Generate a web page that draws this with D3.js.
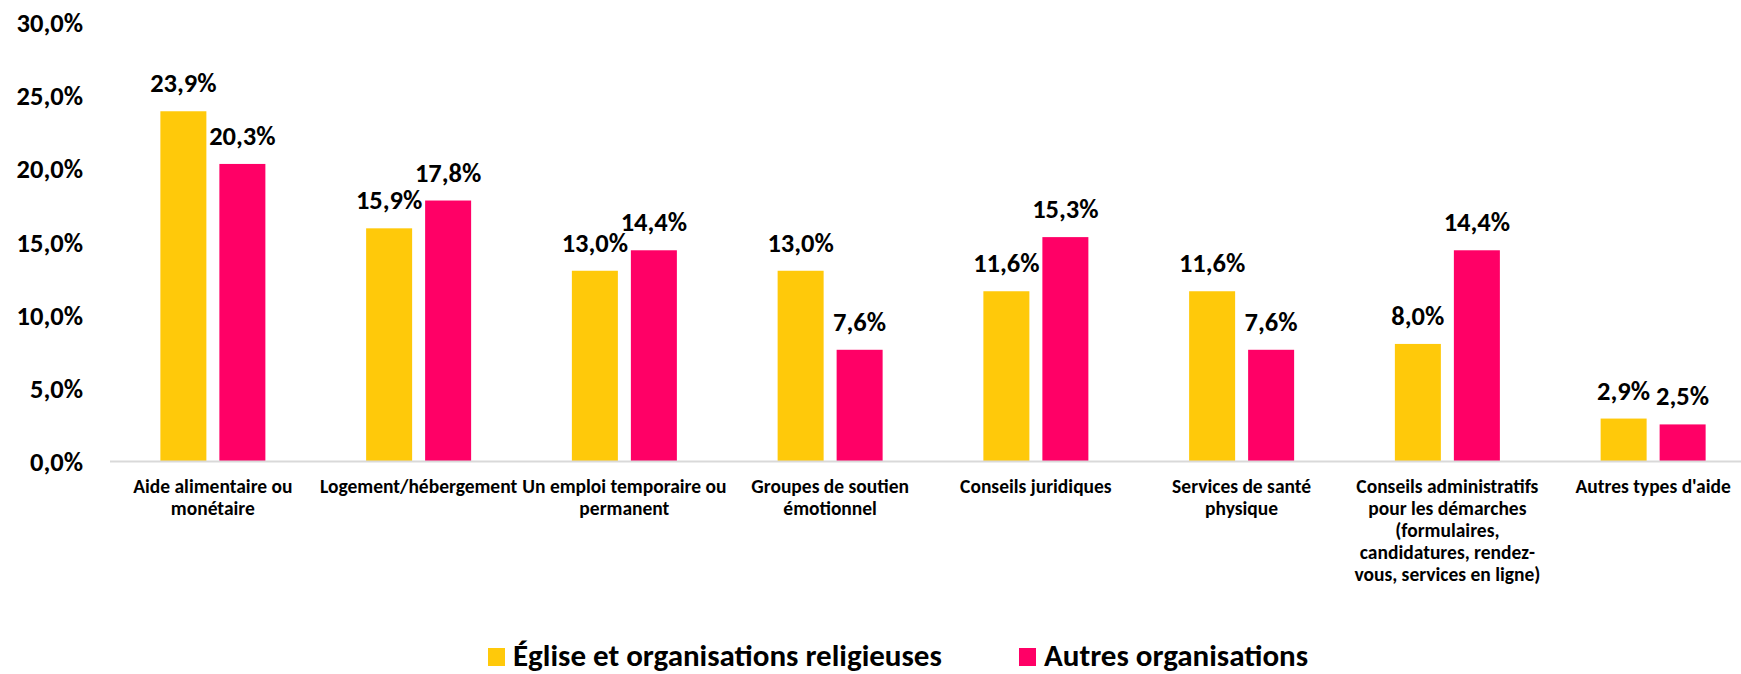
<!DOCTYPE html>
<html>
<head>
<meta charset="utf-8">
<script src="https://cdn.jsdelivr.net/npm/d3@7"></script>
<style>
  body { margin: 0; background: #fff; }
  svg text { font-family: Carlito, Calibri, Lato, sans-serif; font-weight: bold; fill: #000; }
</style>
</head>
<body>
<svg id="chart" width="1741" height="674"></svg>
<script>
// categories (each one split in the lines shown under the axis)
var categories = [
    ["Aide alimentaire ou", "monétaire"],
    ["Logement/hébergement"],
    ["Un emploi temporaire ou", "permanent"],
    ["Groupes de soutien", "émotionnel"],
    ["Conseils juridiques"],
    ["Services de santé", "physique"],
    ["Conseils administratifs", "pour les démarches", "(formulaires,", "candidatures, rendez-", "vous, services en ligne)"],
    ["Autres types d'aide"]
];
var seriesNames = ["Église et organisations religieuses", "Autres organisations"];
var seriesColors = ["#FFC90A", "#FF0066"];
var eglise = [23.9, 15.9, 13.0, 13.0, 11.6, 11.6, 8.0, 2.9];
var autres = [20.3, 17.8, 14.4, 7.6, 15.3, 7.6, 14.4, 2.5];
var yTicks = [0, 5, 10, 15, 20, 25, 30];

var svg = d3.select("#chart");

var plotLeft = 110, plotRight = 1756,
    plotTop = 22, plotBottom = 461;

var fmt = function (v) { return v.toFixed(1).replace(".", ",") + "%"; };

var xScale = d3.scaleBand()
    .domain(d3.range(categories.length))
    .range([plotLeft, plotRight]);

var barW = 46, barGap = 13;
var xSeries = d3.scaleOrdinal()
    .domain([0, 1])
    .range([-barGap / 2 - barW, barGap / 2]);

var yScale = d3.scaleLinear()
    .domain([0, 30])
    .range([plotBottom, plotTop]);

// y axis labels (no line, no ticks)
var yAxis = d3.axisLeft(yScale)
    .tickValues(yTicks)
    .tickFormat(fmt)
    .tickSize(0)
    .tickPadding(0);

var yG = svg.append("g")
    .attr("transform", "translate(83,0)")
    .call(yAxis);
yG.select(".domain").remove();
yG.attr("font-family", null).attr("font-size", null);
yG.selectAll("text")
    .attr("font-size", 26.5)
    .attr("dy", "0.36em");

// bars
var data = [];
eglise.forEach(function (v, i) {
    data.push({cat: i, s: 0, v: v});
    data.push({cat: i, s: 1, v: autres[i]});
});

svg.append("g").selectAll("rect")
    .data(data)
    .enter()
    .append("rect")
    .attr("x", function (d) { return xScale(d.cat) + xScale.bandwidth() / 2 + xSeries(d.s); })
    .attr("width", barW)
    .attr("y", function (d) { return yScale(d.v); })
    .attr("height", function (d) { return plotBottom - yScale(d.v); })
    .attr("fill", function (d) { return seriesColors[d.s]; });

// value labels
svg.append("g").selectAll("text")
    .data(data)
    .enter()
    .append("text")
    .attr("x", function (d) { return xScale(d.cat) + xScale.bandwidth() / 2 + xSeries(d.s) + barW / 2; })
    .attr("y", function (d) { return yScale(d.v) - 19; })
    .attr("text-anchor", "middle")
    .attr("font-size", 26.5)
    .text(function (d) { return fmt(d.v); });

// x axis line
svg.append("line")
    .attr("x1", plotLeft).attr("x2", plotRight)
    .attr("y1", plotBottom + 0.5).attr("y2", plotBottom + 0.5)
    .attr("stroke", "#D9D9D9")
    .attr("stroke-width", 2);

// category labels
var catG = svg.append("g").selectAll("text")
    .data(categories)
    .enter()
    .append("text")
    .attr("x", function (d, i) { return xScale(i) + xScale.bandwidth() / 2; })
    .attr("y", 493)
    .attr("text-anchor", "middle")
    .attr("font-size", 19.5);

catG.selectAll("tspan")
    .data(function (d) { return d; })
    .enter()
    .append("tspan")
    .attr("x", function () { return d3.select(this.parentNode).attr("x"); })
    .attr("dy", function (d, i) { return i === 0 ? 0 : 22; })
    .text(function (d) { return d; });

// legend
var legendX = [488, 1019];
var legend = svg.append("g").selectAll("g")
    .data(seriesNames)
    .enter()
    .append("g")
    .attr("transform", function (d, i) { return "translate(" + legendX[i] + ",648)"; });

legend.append("rect")
    .attr("width", 17)
    .attr("height", 18)
    .attr("fill", function (d, i) { return seriesColors[i]; });

legend.append("text")
    .attr("x", 25)
    .attr("y", 18)
    .attr("font-size", 31)
    .text(function (d) { return d; });
</script>
</body>
</html>
